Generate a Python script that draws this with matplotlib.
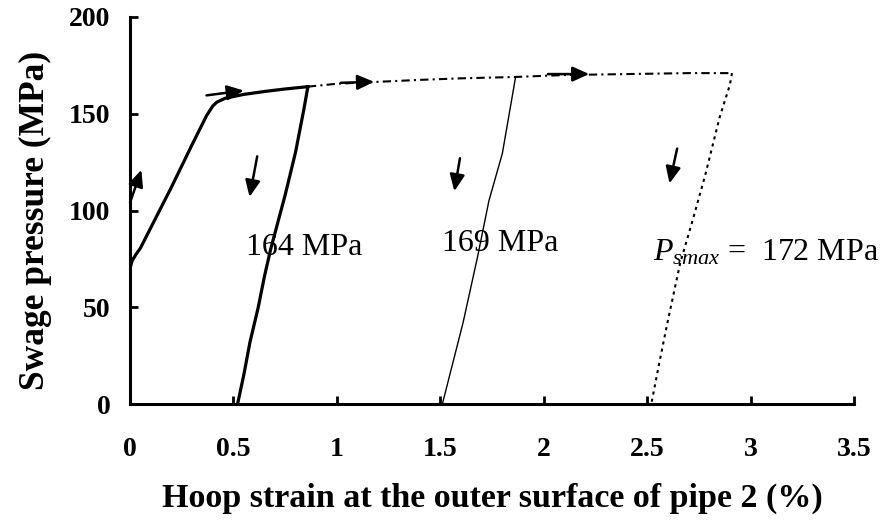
import numpy as np
import matplotlib
matplotlib.use('Agg')
import matplotlib.pyplot as plt

plt.rcParams['font.family'] = ['Liberation Serif', 'DejaVu Serif']
plt.rcParams['mathtext.fontset'] = 'custom'
plt.rcParams['mathtext.rm'] = 'Liberation Serif'
plt.rcParams['mathtext.it'] = 'Liberation Serif:italic'

# loading curve up to first unloading
load_x = [0, 0.01, 0.03, 0.05, 0.1, 0.2, 0.3, 0.37, 0.40, 0.42, 0.46, 0.55, 0.65, 0.75, 0.86]
load_y = [70, 74, 77.5, 80.5, 91, 112, 134, 149, 154, 156, 158, 160, 161.5, 162.8, 164]

# first unloading (164 MPa)
un1_x = [0.86, 0.84, 0.80, 0.75, 0.68, 0.65, 0.62, 0.58, 0.55, 0.52]
un1_y = [164, 152, 130, 108, 80, 66, 50, 32, 15, 0]

# reloading (dashed)
rel_x = [0.86, 1.0, 1.2, 1.4, 1.6, 1.86, 2.1, 2.4, 2.7, 2.91]
rel_y = [164, 165.5, 166.5, 167.5, 168.3, 169, 170, 170.5, 171, 171]

# second unloading (169 MPa)
un2_x = [1.864, 1.80, 1.735, 1.68, 1.61, 1.51]
un2_y = [169, 129.5, 105, 76, 42, 0]

# third unloading (172 MPa)
un3_x = [2.91, 2.90, 2.85, 2.78, 2.72, 2.66, 2.60, 2.56, 2.52]
un3_y = [171, 165, 148, 118, 95, 73, 43, 22, 0]

# arrows: (x_start, y_start, x_end, y_end)
arrows = [
    (0.0, 104, 0.055, 121),
    (0.37, 159.5, 0.55, 162),
    (1.02, 166, 1.18, 166.5),
    (2.02, 170.5, 2.22, 170.5),
    (0.615, 128, 0.578, 107),
    (1.595, 127, 1.568, 110),
    (2.645, 132, 2.608, 114),
]

fig = plt.figure(figsize=(8.91, 5.23), dpi=100)
ax = fig.add_axes([0.1459, 0.2275, 0.8126, 0.74])

ax.plot(load_x, load_y, color='black', lw=2.3)
ax.plot(un1_x, un1_y, color='black', lw=2.3)
ax.plot(rel_x, rel_y, color='black', lw=1.5, dashes=(4, 2, 1, 2))
ax.plot(un2_x, un2_y, color='black', lw=1.0)
ax.plot(un3_x, un3_y, color='black', lw=1.5, dashes=(1.5, 2))

for x0, y0, x1, y1 in arrows:
    ax.annotate('', xy=(x1, y1), xytext=(x0, y0),
                arrowprops=dict(arrowstyle='-|>,head_length=1.0,head_width=0.45',
                                color='black', lw=1.8, shrinkA=0, shrinkB=0))

ax.text(0.56, 81, '164 MPa', fontsize=23, va='center', ha='left')
ax.text(1.51, 83, '169 MPa', fontsize=23, va='center', ha='left')
ax.text(2.53, 78, r'$\mathit{P}_{\mathit{smax}}$ =  172 MPa', fontsize=23,
        va='center', ha='left')

ax.set_xlim(0, 3.5)
ax.set_ylim(0, 200)
ax.set_xticks([0, 0.5, 1, 1.5, 2, 2.5, 3, 3.5])
ax.set_xticklabels(['0', '0.5', '1', '1.5', '2', '2.5', '3', '3.5'])
ax.set_yticks([0, 50, 100, 150, 200])

for s in ['top', 'right']:
    ax.spines[s].set_visible(False)
for s in ['left', 'bottom']:
    ax.spines[s].set_linewidth(2.2)

ax.tick_params(direction='in', length=6, width=2, labelsize=20)
ax.tick_params(axis='x', pad=24)
ax.tick_params(axis='y', pad=14)
for lab in ax.get_xticklabels() + ax.get_yticklabels():
    lab.set_fontweight('bold')

ax.set_xlabel('Hoop strain at the outer surface of pipe 2 (%)', fontsize=24.5,
              fontweight='bold', labelpad=15)
ax.set_ylabel('Swage pressure (MPa)', fontsize=25.5, fontweight='bold', labelpad=12)
ax.yaxis.label.set_y(0.475)

fig.savefig('out.png', dpi=100)
